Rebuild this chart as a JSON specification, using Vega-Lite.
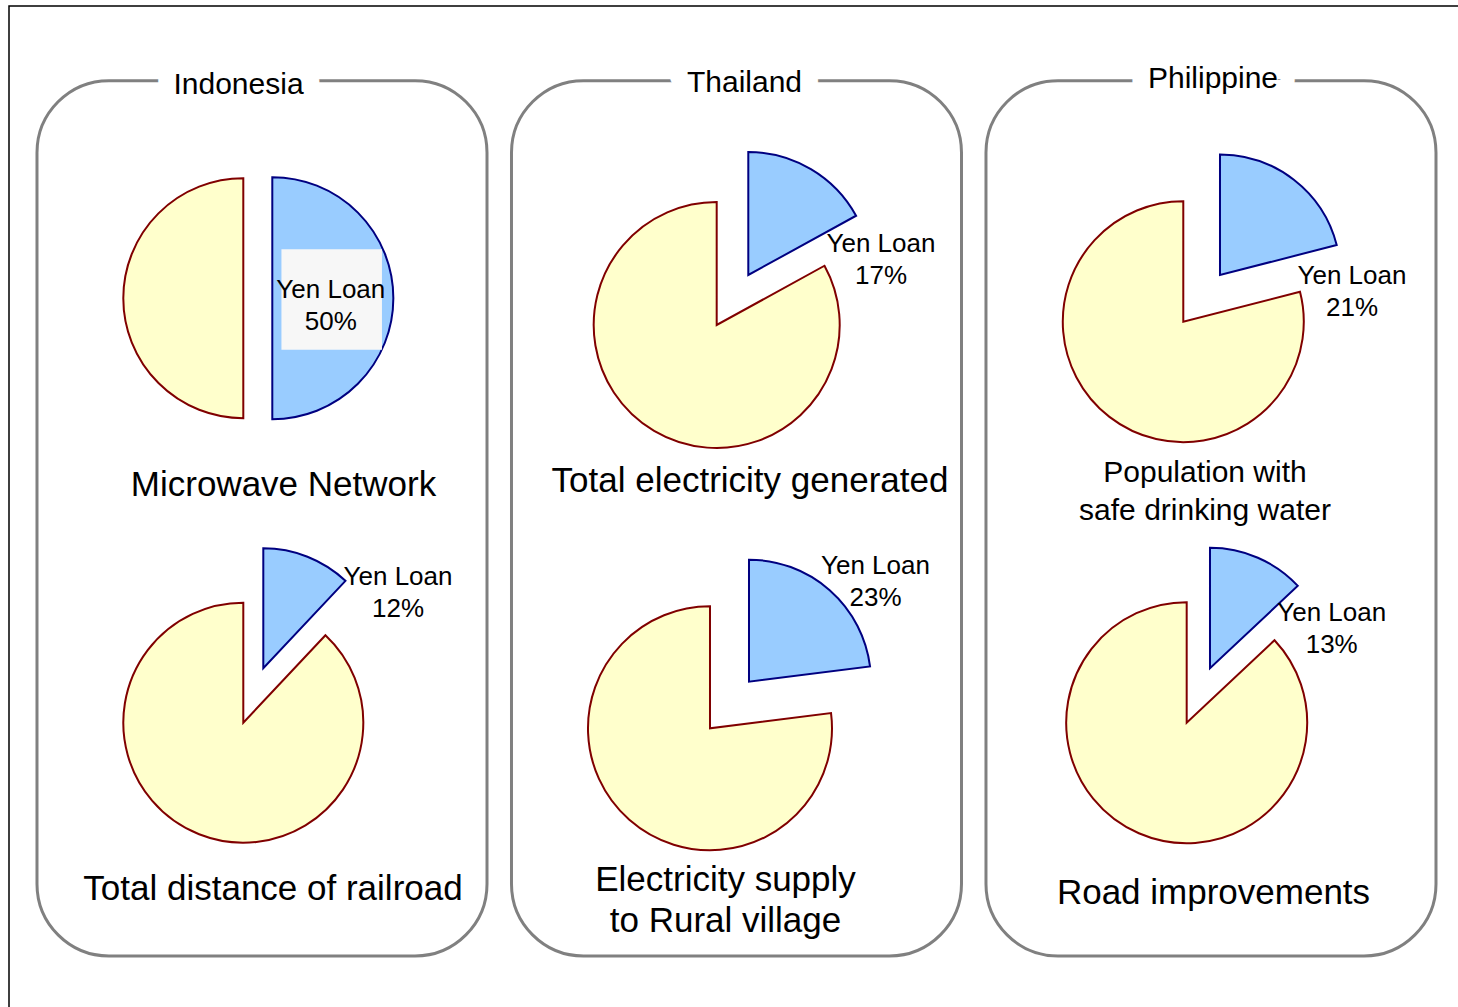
{
  "$schema": "https://vega.github.io/schema/vega-lite/v6.json",
  "width": 1452,
  "height": 1004,
  "padding": {"left": 9, "top": 6, "right": -3, "bottom": -3},
  "autosize": {"type": "none"},
  "background": "white",
  "config": {
    "view": {"stroke": "#000000", "strokeWidth": 1.5},
    "text": {"font": "Liberation Sans", "color": "#000000"}
  },
  "datasets": {
    "countries": [
      {"country": "Indonesia"},
      {"country": "Thailand"},
      {"country": "Philippine"}
    ],
    "slices": [
      {"country": "Indonesia", "slot": 1, "chart": "Microwave Network", "category": "Yen Loan", "share": 50, "label": "Yen Loan\n50%"},
      {"country": "Indonesia", "slot": 1, "chart": "Microwave Network", "category": "Other", "share": 50, "label": ""},
      {"country": "Indonesia", "slot": 2, "chart": "Total distance of railroad", "category": "Yen Loan", "share": 12, "label": "Yen Loan\n12%"},
      {"country": "Indonesia", "slot": 2, "chart": "Total distance of railroad", "category": "Other", "share": 88, "label": ""},
      {"country": "Thailand", "slot": 1, "chart": "Total electricity generated", "category": "Yen Loan", "share": 17, "label": "Yen Loan\n17%"},
      {"country": "Thailand", "slot": 1, "chart": "Total electricity generated", "category": "Other", "share": 83, "label": ""},
      {"country": "Thailand", "slot": 2, "chart": "Electricity supply\nto Rural village", "category": "Yen Loan", "share": 23, "label": "Yen Loan\n23%"},
      {"country": "Thailand", "slot": 2, "chart": "Electricity supply\nto Rural village", "category": "Other", "share": 77, "label": ""},
      {"country": "Philippine", "slot": 1, "chart": "Population with\nsafe drinking water", "category": "Yen Loan", "share": 21, "label": "Yen Loan\n21%"},
      {"country": "Philippine", "slot": 1, "chart": "Population with\nsafe drinking water", "category": "Other", "share": 79, "label": ""},
      {"country": "Philippine", "slot": 2, "chart": "Road improvements", "category": "Yen Loan", "share": 13, "label": "Yen Loan\n13%"},
      {"country": "Philippine", "slot": 2, "chart": "Road improvements", "category": "Other", "share": 87, "label": ""}
    ]
  },
  "encoding": {
    "x": {
      "field": "country",
      "type": "nominal",
      "scale": {"domain": ["Indonesia", "Thailand", "Philippine"], "paddingInner": 0.0516, "paddingOuter": 0.05585, "align": 0.5282},
      "axis": null
    }
  },
  "resolve": {"scale": {"y": "independent"}},
  "layer": [
    {
      "data": {"name": "countries"},
      "encoding": {
        "y": {"datum": "frame", "type": "nominal", "scale": {"paddingInner": 0, "paddingOuter": 0.07352, "align": 0.5804}, "axis": null}
      },
      "layer": [
        {"mark": {"type": "rect", "fill": "white", "stroke": "#808080", "strokeWidth": 3, "cornerRadius": 72}},
        {
          "transform": [{"filter": "datum.country == 'Indonesia'"}],
          "encoding": {"y": {"datum": "frame", "type": "nominal", "bandPosition": 0}, "text": {"field": "country", "type": "nominal"}},
          "layer": [
            {"mark": {"type": "text", "fontSize": 30, "dx": -23.5, "dy": 4, "stroke": "white", "strokeWidth": 36, "strokeJoin": "round", "fill": "white"}},
            {"mark": {"type": "text", "fontSize": 30, "dx": -23.5, "dy": 4, "fill": "black"}}
          ]
        },
        {
          "transform": [{"filter": "datum.country == 'Thailand'"}],
          "encoding": {"y": {"datum": "frame", "type": "nominal", "bandPosition": 0}, "text": {"field": "country", "type": "nominal"}},
          "layer": [
            {"mark": {"type": "text", "fontSize": 30, "dx": 8, "dy": 2, "stroke": "white", "strokeWidth": 36, "strokeJoin": "round", "fill": "white"}},
            {"mark": {"type": "text", "fontSize": 30, "dx": 8, "dy": 2, "fill": "black"}}
          ]
        },
        {
          "transform": [{"filter": "datum.country == 'Philippine'"}],
          "encoding": {"y": {"datum": "frame", "type": "nominal", "bandPosition": 0}, "text": {"field": "country", "type": "nominal"}},
          "layer": [
            {"mark": {"type": "text", "fontSize": 30, "dx": 2, "dy": -2, "stroke": "white", "strokeWidth": 36, "strokeJoin": "round", "fill": "white"}},
            {"mark": {"type": "text", "fontSize": 30, "dx": 2, "dy": -2, "fill": "black"}}
          ]
        }
      ]
    },
    {
      "data": {"name": "slices"},
      "transform": [
        {"stack": "share", "groupby": ["country", "slot"], "sort": [{"field": "category", "order": "descending"}], "as": ["t0", "t1"]}
      ],
      "encoding": {
        "y": {"field": "slot", "type": "ordinal", "scale": {"type": "point", "padding": 0.72439, "align": 0.5202}, "axis": null}
      },
      "layer": [
        {
          "transform": [{"filter": "datum.country == 'Indonesia' && datum.slot == 1"}],
          "layer": [
            {"transform": [{"filter": "datum.category == 'Other'"}],
             "mark": {"type": "arc", "radius": 120, "fill": "#FFFFCC", "stroke": "#800000", "strokeWidth": 2, "xOffset": -18.7, "yOffset": -16.8},
             "encoding": {"theta": {"field": "t0", "type": "quantitative", "scale": {"domain": [0, 100]}}, "theta2": {"field": "t1"}}},
            {"transform": [{"filter": "datum.category == 'Yen Loan'"}],
             "mark": {"type": "arc", "radius": 121, "fill": "#99CCFF", "stroke": "#000080", "strokeWidth": 2, "xOffset": 10.3, "yOffset": -16.8},
             "encoding": {"theta": {"field": "t0", "type": "quantitative", "scale": {"domain": [0, 100]}}, "theta2": {"field": "t1"}}},
            {"transform": [{"filter": "datum.category == 'Yen Loan'"}],
             "mark": {"type": "point", "shape": "square", "filled": true, "fill": "#F7F7F7", "opacity": 1, "strokeWidth": 0, "size": 10100, "xOffset": 69.7, "yOffset": -15.5}},
            {"transform": [{"filter": "datum.category == 'Yen Loan'"}],
             "mark": {"type": "text", "fontSize": 26, "lineHeight": 32, "lineBreak": "\n", "dx": 68.8, "dy": -24.6},
             "encoding": {"text": {"field": "label", "type": "nominal"}}},
            {"transform": [{"filter": "datum.category == 'Yen Loan'"}],
             "mark": {"type": "text", "fontSize": 35, "lineHeight": 41, "lineBreak": "\n", "dx": 21.5, "dy": 170},
             "encoding": {"text": {"field": "chart", "type": "nominal"}}}
          ]
        },
        {
          "transform": [{"filter": "datum.country == 'Indonesia' && datum.slot == 2"}],
          "layer": [
            {"transform": [{"filter": "datum.category == 'Other'"}],
             "mark": {"type": "arc", "radius": 120, "fill": "#FFFFCC", "stroke": "#800000", "strokeWidth": 2, "xOffset": -18.7, "yOffset": -2.3},
             "encoding": {"theta": {"field": "t0", "type": "quantitative", "scale": {"domain": [0, 100]}}, "theta2": {"field": "t1"}}},
            {"transform": [{"filter": "datum.category == 'Yen Loan'"}],
             "mark": {"type": "arc", "radius": 120, "fill": "#99CCFF", "stroke": "#000080", "strokeWidth": 2, "xOffset": 1.3, "yOffset": -56.7},
             "encoding": {"theta": {"field": "t0", "type": "quantitative", "scale": {"domain": [0, 100]}}, "theta2": {"field": "t1"}}},
            {"transform": [{"filter": "datum.category == 'Yen Loan'"}],
             "mark": {"type": "text", "fontSize": 26, "lineHeight": 32, "lineBreak": "\n", "dx": 136, "dy": -147.9},
             "encoding": {"text": {"field": "label", "type": "nominal"}}},
            {"transform": [{"filter": "datum.category == 'Yen Loan'"}],
             "mark": {"type": "text", "fontSize": 35, "lineHeight": 41, "lineBreak": "\n", "dx": 11, "dy": 163.7},
             "encoding": {"text": {"field": "chart", "type": "nominal"}}}
          ]
        },
        {
          "transform": [{"filter": "datum.country == 'Thailand' && datum.slot == 1"}],
          "layer": [
            {"transform": [{"filter": "datum.category == 'Other'"}],
             "mark": {"type": "arc", "radius": 123, "fill": "#FFFFCC", "stroke": "#800000", "strokeWidth": 2, "xOffset": -19.8, "yOffset": 10},
             "encoding": {"theta": {"field": "t0", "type": "quantitative", "scale": {"domain": [0, 100]}}, "theta2": {"field": "t1"}}},
            {"transform": [{"filter": "datum.category == 'Yen Loan'"}],
             "mark": {"type": "arc", "radius": 123, "fill": "#99CCFF", "stroke": "#000080", "strokeWidth": 2, "xOffset": 11.8, "yOffset": -40},
             "encoding": {"theta": {"field": "t0", "type": "quantitative", "scale": {"domain": [0, 100]}}, "theta2": {"field": "t1"}}},
            {"transform": [{"filter": "datum.category == 'Yen Loan'"}],
             "mark": {"type": "text", "fontSize": 26, "lineHeight": 32, "lineBreak": "\n", "dx": 144.5, "dy": -71.3},
             "encoding": {"text": {"field": "label", "type": "nominal"}}},
            {"transform": [{"filter": "datum.category == 'Yen Loan'"}],
             "mark": {"type": "text", "fontSize": 35, "lineHeight": 41, "lineBreak": "\n", "dx": 13.5, "dy": 166},
             "encoding": {"text": {"field": "chart", "type": "nominal"}}}
          ]
        },
        {
          "transform": [{"filter": "datum.country == 'Thailand' && datum.slot == 2"}],
          "layer": [
            {"transform": [{"filter": "datum.category == 'Other'"}],
             "mark": {"type": "arc", "radius": 122, "fill": "#FFFFCC", "stroke": "#800000", "strokeWidth": 2, "xOffset": -26.5, "yOffset": 3.3},
             "encoding": {"theta": {"field": "t0", "type": "quantitative", "scale": {"domain": [0, 100]}}, "theta2": {"field": "t1"}}},
            {"transform": [{"filter": "datum.category == 'Yen Loan'"}],
             "mark": {"type": "arc", "radius": 122, "fill": "#99CCFF", "stroke": "#000080", "strokeWidth": 2, "xOffset": 12.5, "yOffset": -43.3},
             "encoding": {"theta": {"field": "t0", "type": "quantitative", "scale": {"domain": [0, 100]}}, "theta2": {"field": "t1"}}},
            {"transform": [{"filter": "datum.category == 'Yen Loan'"}],
             "mark": {"type": "text", "fontSize": 26, "lineHeight": 32, "lineBreak": "\n", "dx": 139, "dy": -159.3},
             "encoding": {"text": {"field": "label", "type": "nominal"}}},
            {"transform": [{"filter": "datum.category == 'Yen Loan'"}],
             "mark": {"type": "text", "fontSize": 35, "lineHeight": 41, "lineBreak": "\n", "dx": -11, "dy": 155.5},
             "encoding": {"text": {"field": "chart", "type": "nominal"}}}
          ]
        },
        {
          "transform": [{"filter": "datum.country == 'Philippine' && datum.slot == 1"}],
          "layer": [
            {"transform": [{"filter": "datum.category == 'Other'"}],
             "mark": {"type": "arc", "radius": 120.5, "fill": "#FFFFCC", "stroke": "#800000", "strokeWidth": 2, "xOffset": -27.7, "yOffset": 6.7},
             "encoding": {"theta": {"field": "t0", "type": "quantitative", "scale": {"domain": [0, 100]}}, "theta2": {"field": "t1"}}},
            {"transform": [{"filter": "datum.category == 'Yen Loan'"}],
             "mark": {"type": "arc", "radius": 120.5, "fill": "#99CCFF", "stroke": "#000080", "strokeWidth": 2, "xOffset": 9, "yOffset": -40},
             "encoding": {"theta": {"field": "t0", "type": "quantitative", "scale": {"domain": [0, 100]}}, "theta2": {"field": "t1"}}},
            {"transform": [{"filter": "datum.category == 'Yen Loan'"}],
             "mark": {"type": "text", "fontSize": 26, "lineHeight": 32, "lineBreak": "\n", "dx": 141, "dy": -38.8},
             "encoding": {"text": {"field": "label", "type": "nominal"}}},
            {"transform": [{"filter": "datum.category == 'Yen Loan'"}],
             "mark": {"type": "text", "fontSize": 30, "lineHeight": 37.5, "lineBreak": "\n", "dx": -6, "dy": 158.25},
             "encoding": {"text": {"field": "chart", "type": "nominal"}}}
          ]
        },
        {
          "transform": [{"filter": "datum.country == 'Philippine' && datum.slot == 2"}],
          "layer": [
            {"transform": [{"filter": "datum.category == 'Other'"}],
             "mark": {"type": "arc", "radius": 120.5, "fill": "#FFFFCC", "stroke": "#800000", "strokeWidth": 2, "xOffset": -24.3, "yOffset": -2.3},
             "encoding": {"theta": {"field": "t0", "type": "quantitative", "scale": {"domain": [0, 100]}}, "theta2": {"field": "t1"}}},
            {"transform": [{"filter": "datum.category == 'Yen Loan'"}],
             "mark": {"type": "arc", "radius": 120.5, "fill": "#99CCFF", "stroke": "#000080", "strokeWidth": 2, "xOffset": -1, "yOffset": -56.7},
             "encoding": {"theta": {"field": "t0", "type": "quantitative", "scale": {"domain": [0, 100]}}, "theta2": {"field": "t1"}}},
            {"transform": [{"filter": "datum.category == 'Yen Loan'"}],
             "mark": {"type": "text", "fontSize": 26, "lineHeight": 32, "lineBreak": "\n", "dx": 120.7, "dy": -112.1},
             "encoding": {"text": {"field": "label", "type": "nominal"}}},
            {"transform": [{"filter": "datum.category == 'Yen Loan'"}],
             "mark": {"type": "text", "fontSize": 35, "lineHeight": 41, "lineBreak": "\n", "dx": 2.5, "dy": 168},
             "encoding": {"text": {"field": "chart", "type": "nominal"}}}
          ]
        }
      ]
    }
  ]
}
